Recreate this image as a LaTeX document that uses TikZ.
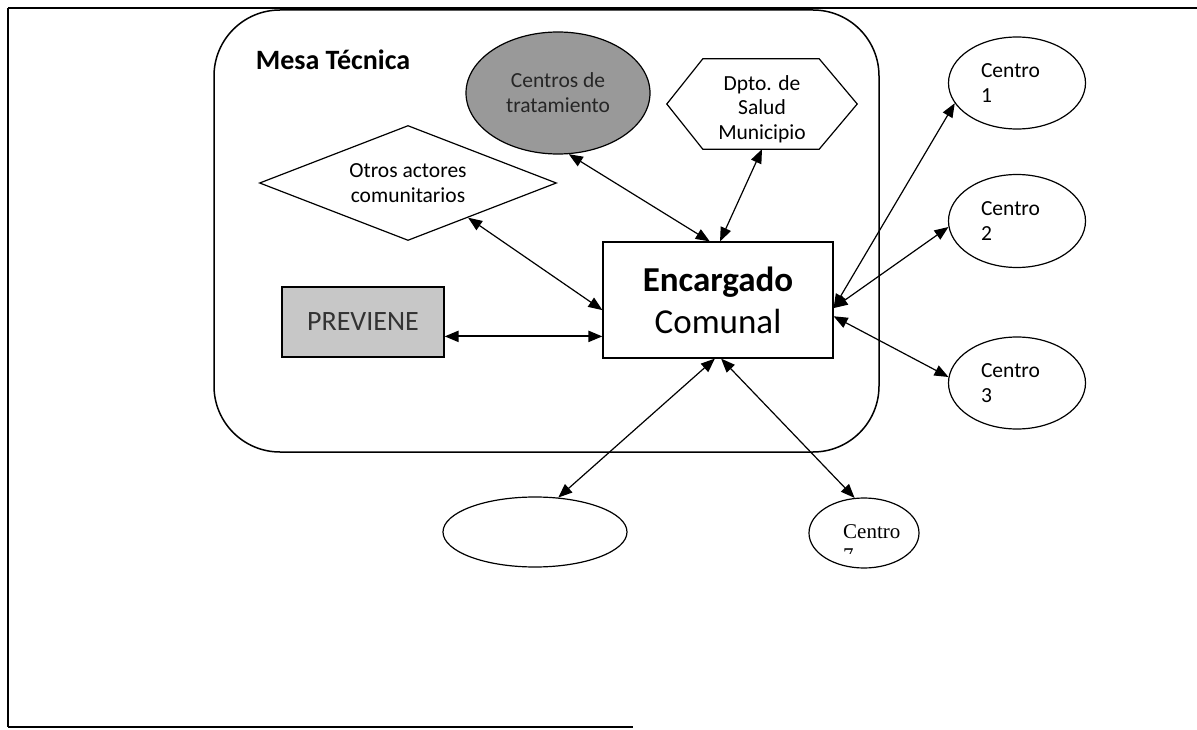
\documentclass[tikz,border=0pt]{standalone}
\usepackage{fontspec}
\setmainfont{Carlito}
\newfontfamily\tnrfont{Liberation Serif}
\usetikzlibrary{shapes.geometric,arrows.meta,calc}
\tikzset{
  shp/.style={draw, line width=1.2pt, inner sep=0pt, align=center, font=\fontsize{21.5}{25}\selectfont},
  link/.style={line width=1.2pt, {Triangle[length=14pt,width=11pt]}-{Triangle[length=14pt,width=11pt]}},
  frameline/.style={line width=2pt},
}
\begin{document}
\begin{tikzpicture}[x=1pt,y=-1pt]
\useasboundingbox (0,0) rectangle (1197,730);
% outer frame
\draw[frameline, line width=2.6pt] (8,8) -- (1197,8);
\draw[frameline, line width=1.6pt] (8,8) -- (8,727);
\draw[frameline] (8,727) -- (633,727);
% Mesa Tecnica container
\node[draw, line width=1.5pt, rounded corners=66pt, minimum width=665pt, minimum height=442pt, inner sep=0pt] (mesa) at (546.5,231) {};
\node[font=\bfseries\fontsize{28}{32}\selectfont] (mtl) at (333,60) {Mesa Técnica};
% nodes
\node[shp, ellipse, minimum width=184pt, minimum height=122pt, fill=black!40, text=black!85] (cent) at (558,93) {Centros de\\tratamiento};
\node[inner sep=0pt, minimum width=190pt, minimum height=90pt] (dpto) at (762,104) {};
\draw[line width=1.2pt] (dpto.west) -- ($(dpto.north west)+(36,0)$) -- ($(dpto.north east)+(-38,0)$) -- (dpto.east) -- ($(dpto.south east)+(-38,0)$) -- ($(dpto.south west)+(36,0)$) -- cycle;
\node[inner sep=0pt, align=center, font=\fontsize{21.5}{24.5}\selectfont] (dptot) at (762,109) {Dpto. de\\Salud\\Municipio};
\node[shp, diamond, aspect=2.6, minimum width=297pt, minimum height=115pt] (otros) at (408,183) {Otros actores\\comunitarios};
\node[shp, rectangle, minimum width=230pt, minimum height=116pt, font=\fontsize{35}{42}\selectfont] (box) at (718,300) {\textbf{Encargado}\\Comunal};
\node[shp, rectangle, fill=black!22, text=black!80, minimum width=162pt, minimum height=70pt, font=\fontsize{28}{32}\selectfont] (prev) at (363,322) {PREVIENE};
\node[shp, ellipse, minimum width=137pt, minimum height=92pt, text width=72pt, align=left] (c1) at (1017,83) {Centro\\1};
\node[shp, ellipse, minimum width=137pt, minimum height=93pt, text width=72pt, align=left] (c2) at (1017,221) {Centro\\2};
\node[shp, ellipse, minimum width=137pt, minimum height=92pt, text width=72pt, align=left] (c3) at (1017,383) {Centro\\3};
\node[shp, ellipse, minimum width=184pt, minimum height=70pt] (e0) at (535,532) {};
\node[shp, ellipse, minimum width=110pt, minimum height=70pt] (c7) at (864,533) {};
\begin{scope}
\clip (815,505) rectangle (915,553);
\node[inner sep=0pt, align=left, anchor=north west, font=\tnrfont\fontsize{21}{24}\selectfont] (c7t) at (843,524) {Centro\\7};
\end{scope}
% connectors
\draw[link] (cent.-80) -- (box.98);
\draw[link] (dpto.south) -- (box.88);
\draw[link] (otros.-30) -- (box.185);
\draw[link, line width=2.2pt] (prev.-10) -- (prev.-10 -| box.west);
\draw[link] (box.-4) -- (c1.198);
\draw[link] (box.-4) -- (c2.185);
\draw[link] (box.-8) -- (c3.175);
\draw[link] (box.-93) -- (e0.56);
\draw[link] (box.-87) -- (c7.105);
\end{tikzpicture}
\end{document}
